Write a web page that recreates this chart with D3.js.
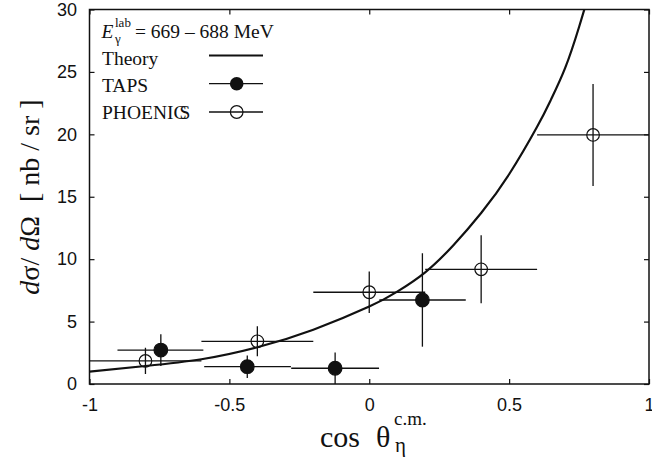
<!DOCTYPE html>
<html>
<head>
<meta charset="utf-8">
<script src="https://cdn.jsdelivr.net/npm/d3@7"></script>
<style>
  html, body { margin: 0; padding: 0; background: #fff; }
  svg { display: block; }
  .tick text { font-family: "Liberation Sans", Arial, sans-serif; font-size: 18px; fill: #111; }
  .serif { font-family: "Liberation Serif", "Times New Roman", serif; fill: #111; white-space: pre; }
</style>
</head>
<body>
<svg id="chart" width="652" height="461"></svg>
<script>
// Theory curve, sampled along cos(theta)
const theoryCos = [-1, -0.8, -0.6, -0.4, -0.2, 0, 0.1, 0.2, 0.3, 0.4, 0.5, 0.6, 0.65, 0.7, 0.75, 0.8];
const theoryXs  = [0.99, 1.44, 1.98, 2.94, 4.35, 6.2, 7.4, 8.95, 11.1, 13.7, 16.8, 20.6, 22.8, 25.3, 28.6, 32.4];

// TAPS data (filled circles)
const tapsCos = [-0.745, -0.436, -0.122, 0.19];
const tapsLo  = [-0.90, -0.59, -0.279, 0.036];
const tapsHi  = [-0.593, -0.28, 0.035, 0.345];
const tapsXs  = [2.72, 1.39, 1.26, 6.73];
const tapsErr = [1.27, 0.9, 1.26, 3.74];

// PHOENICS data (open circles)
const phoenicsCos = [-0.8, -0.4, 0, 0.4, 0.8];
const phoenicsLo  = [-1.0, -0.6, -0.2, 0.2, 0.6];
const phoenicsHi  = [-0.6, -0.2, 0.2, 0.6, 1.0];
const phoenicsXs  = [1.85, 3.42, 7.35, 9.19, 19.95];
const phoenicsErr = [1.05, 1.2, 1.67, 2.72, 4.08];

// Axis ticks
const xTicks = [-1, -0.5, 0, 0.5, 1];
const xTickLabels = ["-1", "-0.5", "0", "0.5", "1"];
const yTicks = [0, 5, 10, 15, 20, 25, 30];
const yTickLabels = ["0", "5", "10", "15", "20", "25", "30"];

const svg = d3.select("#chart");
const ink = "#111";

const x = d3.scaleLinear().domain([-1, 1]).range([89.5, 649]);
const y = d3.scaleLinear().domain([0, 30]).range([384, 9.5]);
const [x0, x1] = x.range();
const [y0, y1] = y.range();

svg.append("rect").attr("width", 652).attr("height", 461).attr("fill", "#fff");

svg.append("defs").append("clipPath").attr("id", "plotClip")
  .append("rect").attr("x", x0).attr("y", y1).attr("width", x1 - x0).attr("height", y0 - y1);

// Axes with inward ticks on all four sides
function styleAxis(g) {
  g.select(".domain").remove();
  g.selectAll(".tick line").attr("stroke", ink).attr("stroke-width", 1.2);
}
svg.append("g").attr("transform", `translate(0,${y0})`)
  .call(d3.axisBottom(x).tickValues(xTicks).tickSize(-5).tickPadding(14)
    .tickFormat((d, i) => xTickLabels[i]))
  .call(styleAxis);
svg.append("g").attr("transform", `translate(0,${y1})`)
  .call(d3.axisTop(x).tickValues(xTicks).tickSize(-5).tickFormat(""))
  .call(styleAxis);
svg.append("g").attr("transform", `translate(${x0},0)`)
  .call(d3.axisLeft(y).tickValues(yTicks).tickSize(-5).tickPadding(12.5)
    .tickFormat((d, i) => yTickLabels[i]))
  .call(styleAxis);
svg.append("g").attr("transform", `translate(${x1},0)`)
  .call(d3.axisRight(y).tickValues(yTicks).tickSize(-5).tickFormat(""))
  .call(styleAxis);

svg.append("rect")
  .attr("x", x0).attr("y", y1).attr("width", x1 - x0).attr("height", y0 - y1)
  .attr("fill", "none").attr("stroke", ink).attr("stroke-width", 1.5);

const plot = svg.append("g").attr("clip-path", "url(#plotClip)");

// Theory curve
const line = d3.line().x(d => x(d[0])).y(d => y(d[1])).curve(d3.curveNatural);
plot.append("path")
  .datum(theoryCos.map((c, i) => [c, theoryXs[i]]))
  .attr("d", line).attr("fill", "none").attr("stroke", ink).attr("stroke-width", 2.2);

// Error bars and markers
function drawSeries(cos, lo, hi, val, err, filled) {
  const data = cos.map((c, i) => ({ c, lo: lo[i], hi: hi[i], v: val[i], e: err[i] }));
  const g = plot.append("g");
  g.selectAll("line.h").data(data).join("line").attr("class", "h")
    .attr("x1", d => x(d.lo)).attr("x2", d => x(d.hi))
    .attr("y1", d => y(d.v)).attr("y2", d => y(d.v))
    .attr("stroke", ink).attr("stroke-width", 1.3);
  g.selectAll("line.v").data(data).join("line").attr("class", "v")
    .attr("x1", d => x(d.c)).attr("x2", d => x(d.c))
    .attr("y1", d => y(d.v - d.e)).attr("y2", d => y(d.v + d.e))
    .attr("stroke", ink).attr("stroke-width", 1.3);
  g.selectAll("circle").data(data).join("circle")
    .attr("cx", d => x(d.c)).attr("cy", d => y(d.v))
    .attr("r", filled ? 6.8 : 6.3)
    .attr("fill", filled ? ink : "none")
    .attr("stroke", ink).attr("stroke-width", 1.2);
}
drawSeries(phoenicsCos, phoenicsLo, phoenicsHi, phoenicsXs, phoenicsErr, false);
drawSeries(tapsCos, tapsLo, tapsHi, tapsXs, tapsErr, true);

// Legend
const leg = svg.append("g");
const legFont = 19.5;
const eText = leg.append("text").attr("class", "serif").attr("font-size", legFont);
eText.append("tspan").attr("x", 101.5).attr("y", 38).attr("font-style", "italic").text("E");
eText.append("tspan").attr("x", 115).attr("y", 27).attr("font-size", 13).text("lab");
eText.append("tspan").attr("x", 115).attr("y", 43).attr("font-size", 13).text("γ");
eText.append("tspan").attr("x", 135).attr("y", 38).text("= 669 – 688 MeV");

leg.append("text").attr("class", "serif").attr("font-size", legFont)
  .attr("x", 102).attr("y", 65).text("Theory");
leg.append("text").attr("class", "serif").attr("font-size", legFont)
  .attr("x", 102).attr("y", 92).text("TAPS");
const ph = leg.append("text").attr("class", "serif").attr("font-size", legFont)
  .attr("x", 102).attr("y", 119);
ph.append("tspan").text("PHOENIC");
ph.append("tspan").attr("dx", -7).text("S");

const lx0 = 209, lx1 = 263, lxc = 236.7;
leg.append("line").attr("x1", lx0).attr("x2", lx1).attr("y1", 55.5).attr("y2", 55.5)
  .attr("stroke", ink).attr("stroke-width", 2.2);
leg.append("line").attr("x1", lx0).attr("x2", lx1).attr("y1", 83.7).attr("y2", 83.7)
  .attr("stroke", ink).attr("stroke-width", 1.3);
leg.append("circle").attr("cx", lxc).attr("cy", 83.7).attr("r", 6.8).attr("fill", ink);
leg.append("line").attr("x1", lx0).attr("x2", lx1).attr("y1", 112).attr("y2", 112)
  .attr("stroke", ink).attr("stroke-width", 1.3);
leg.append("circle").attr("cx", lxc).attr("cy", 112).attr("r", 6.3)
  .attr("fill", "none").attr("stroke", ink).attr("stroke-width", 1.2);

// Axis titles
const xl = svg.append("text").attr("class", "serif").attr("font-size", 30);
xl.append("tspan").attr("x", 320).attr("y", 446.5).text("cos");
xl.append("tspan").attr("x", 376).attr("y", 446.5).text("θ");
xl.append("tspan").attr("x", 394).attr("y", 425).attr("font-size", 19).text("c.m.");
xl.append("tspan").attr("x", 395).attr("y", 452).attr("font-size", 21).text("η");

const yl = svg.append("text").attr("class", "serif").attr("font-size", 28)
  .attr("text-anchor", "middle")
  .attr("transform", "translate(39,197) rotate(-90)");
yl.append("tspan").attr("font-style", "italic").text("d");
yl.append("tspan").text("σ/ ");
yl.append("tspan").attr("font-style", "italic").text("d");
yl.append("tspan").text("Ω  [ nb / sr ]");
</script>
</body>
</html>
